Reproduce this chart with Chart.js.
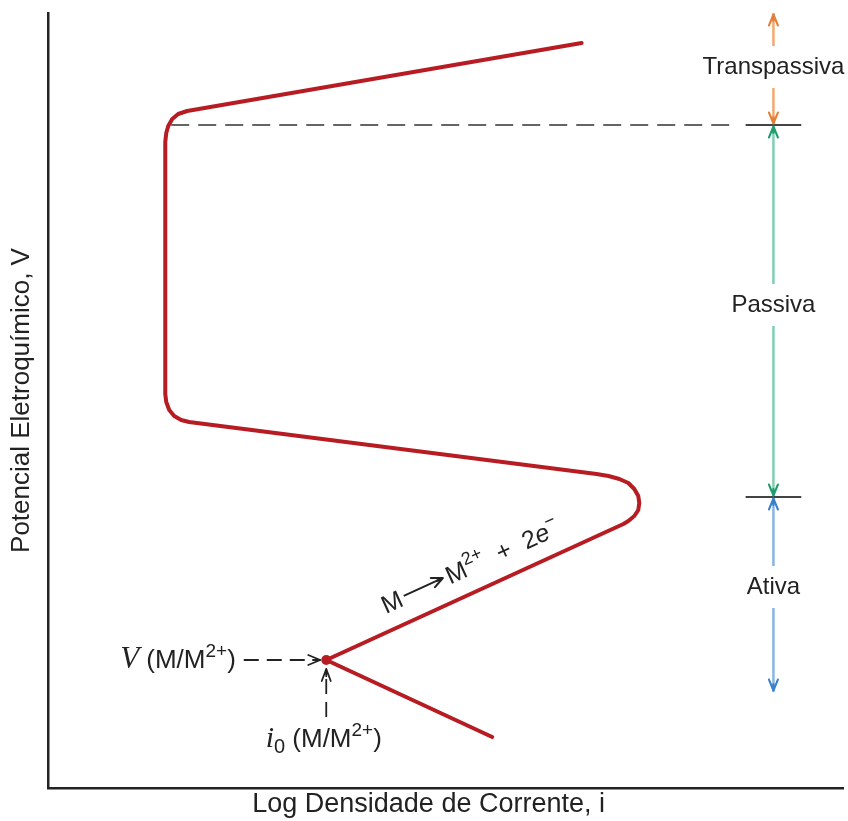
<!DOCTYPE html>
<html>
<head>
<meta charset="utf-8">
<script src="https://cdn.jsdelivr.net/npm/chart.js@4"></script>
<style>
html, body { margin: 0; padding: 0; background: #fff; }
#wrap { width: 848px; height: 821px; position: relative; }
</style>
</head>
<body>
<div id="wrap"><canvas id="chart"></canvas></div>
<script>

const xTitle = 'Log Densidade de Corrente, i';
const yTitle = 'Potencial Eletroquímico, V';

// polarization curve (arbitrary units)
const curveLogI = [ 447, 280, 579, 584, 590, 594, 595, 594, 590, 584, 575, 564, 552, 142, 134, 127, 122, 119, 118, 118, 119, 121, 125, 131, 140, 537 ];
const curveV = [ 51, 128, 264, 267, 272, 278, 285, 292, 299, 305, 309, 312, 314, 366, 368, 372, 378, 386, 394, 646, 655, 662, 669, 674, 677, 745 ];

// equilibrium point V(M/M2+), i0(M/M2+)
const eqLogI = 280;
const eqV = 128;

// potentials separating the regions
const passivationV = 291;
const transpassiveV = 663;

const regionNames = [ 'Transpassiva', 'Passiva', 'Ativa' ];
const regionTopV = [ 775, 663, 291 ];
const regionBottomV = [ 663, 291, 96 ];
const regionLabelV = [ 721, 483, 201 ];
const regionLogI = 730;

const RED = '#b71c23';
const TEXT = '#222';
const SANS = '"Liberation Sans", Arial, sans-serif';
const SERIF = '"Liberation Serif", "DejaVu Serif", serif';
const shaftColours = [ '#f3a872', '#7fd0b3', '#88b6e4' ];
const headColours = [ '#e57f35', '#1f9c6c', '#3b7fcf' ];

function pts ( xs, ys ) {

	return xs.map( ( x, i ) => ( { x: x, y: ys[ i ] } ) );

}

function lineSet ( data, colour, width, dash ) {

	return {
		data: data,
		borderColor: colour,
		backgroundColor: colour,
		borderWidth: width,
		borderDash: dash || [],
		pointRadius: 0,
		tension: 0,
		clip: false
	};

}

const datasets = [];

datasets.push( Object.assign( lineSet( pts( curveLogI, curveV ), RED, 4 ), {
	borderJoinStyle: 'round',
	borderCapStyle: 'round'
} ) );

datasets.push( {
	data: [ { x: eqLogI, y: eqV } ],
	showLine: false,
	pointRadius: 5,
	pointBackgroundColor: RED,
	pointBorderWidth: 0
} );

// dashed line from the passivity breakdown to the region scale
datasets.push( lineSet( [ { x: 124, y: transpassiveV }, { x: 694, y: transpassiveV } ], '#333', 1.5, [ 18, 9 ] ) );

// short limit marks
[ passivationV, transpassiveV ].forEach( v => {

	datasets.push( lineSet( [ { x: 702, y: v }, { x: 758, y: v } ], '#444', 1.8 ) );

} );

// region arrows shafts, broken around the label
const GAP = 21;

regionNames.forEach( ( name, i ) => {

	datasets.push( lineSet( [ { x: regionLogI, y: regionTopV[ i ] }, { x: regionLogI, y: regionLabelV[ i ] + GAP } ], shaftColours[ i ], 2.5 ) );
	datasets.push( lineSet( [ { x: regionLogI, y: regionLabelV[ i ] - GAP }, { x: regionLogI, y: regionBottomV[ i ] } ], shaftColours[ i ], 2.5 ) );

} );

// dashed pointers to the equilibrium point
datasets.push( lineSet( [ { x: 197, y: eqV }, { x: 272, y: eqV } ], '#222', 1.8, [ 15, 8 ] ) );
datasets.push( lineSet( [ { x: 280, y: 71 }, { x: 280, y: 119 } ], '#222', 1.8, [ 15, 8 ] ) );

function chevron ( ctx, x, y, dx, dy, len, half, colour, width ) {

	const px = - dy, py = dx;

	ctx.save();
	ctx.strokeStyle = colour;
	ctx.lineWidth = width;
	ctx.lineCap = 'round';
	ctx.lineJoin = 'round';
	ctx.beginPath();
	ctx.moveTo( x - dx * len + px * half, y - dy * len + py * half );
	ctx.lineTo( x, y );
	ctx.lineTo( x - dx * len - px * half, y - dy * len - py * half );
	ctx.moveTo( x, y );
	ctx.lineTo( x - dx * len * 0.6, y - dy * len * 0.6 );
	ctx.stroke();
	ctx.restore();

}

// parts: [ text, font, dy ] ; text null = drawn reaction arrow of width given in font slot
function partsWidth ( ctx, parts ) {

	let w = 0;

	for ( const p of parts ) {

		if ( p[ 0 ] === null ) {

			w += p[ 1 ];
			continue;

		}

		ctx.font = p[ 1 ];
		w += ctx.measureText( p[ 0 ] ).width;

	}

	return w;

}

function drawParts ( ctx, x, y, parts ) {

	let cx = x;

	for ( const p of parts ) {

		if ( p[ 0 ] === null ) {

			ctx.save();
			ctx.strokeStyle = TEXT;
			ctx.lineWidth = 2;
			ctx.beginPath();
			ctx.moveTo( cx + 3, y - 9 );
			ctx.lineTo( cx + p[ 1 ] - 5, y - 9 );
			ctx.stroke();
			chevron( ctx, cx + p[ 1 ] - 4, y - 9, 1, 0, 11, 5, TEXT, 2 );
			ctx.restore();
			cx += p[ 1 ];
			continue;

		}

		ctx.font = p[ 1 ];
		ctx.fillText( p[ 0 ], cx, y + ( p[ 2 ] || 0 ) );
		cx += ctx.measureText( p[ 0 ] ).width;

	}

}

const overlay = {
	id: 'overlay',
	afterDatasetsDraw ( chart ) {

		const { ctx, scales: { x, y } } = chart;

		ctx.save();
		ctx.fillStyle = TEXT;
		ctx.textBaseline = 'alphabetic';

		// region labels and arrow heads
		const ax = x.getPixelForValue( regionLogI );

		regionNames.forEach( ( name, i ) => {

			ctx.font = '24px ' + SANS;
			ctx.textAlign = 'center';
			ctx.textBaseline = 'middle';
			ctx.fillText( name, ax, y.getPixelForValue( regionLabelV[ i ] ) );

			chevron( ctx, ax, y.getPixelForValue( regionTopV[ i ] ) + 1.5, 0, - 1, 11, 4.5, headColours[ i ], 2 );
			chevron( ctx, ax, y.getPixelForValue( regionBottomV[ i ] ) - 1.5, 0, 1, 11, 4.5, headColours[ i ], 2 );

		} );

		// x axis title, sits a little left of the axis centre in the figure
		ctx.font = '27px ' + SANS;
		ctx.fillText( xTitle, x.getPixelForValue( 383 ), chart.chartArea.bottom + 17 );

		ctx.textAlign = 'left';
		ctx.textBaseline = 'alphabetic';

		// pointer heads
		const ex = x.getPixelForValue( eqLogI );
		const ey = y.getPixelForValue( eqV );

		chevron( ctx, ex - 6, ey, 1, 0, 12, 5, TEXT, 1.8 );
		chevron( ctx, ex, ey + 9, 0, - 1, 12, 4.5, TEXT, 1.8 );

		// V (M/M2+)
		const vParts = [
			[ 'V', 'italic 31px ' + SERIF ],
			[ ' (M/M', '26px ' + SANS ],
			[ '2+', '19px ' + SANS, - 11 ],
			[ ')', '26px ' + SANS ]
		];
		const vw = partsWidth( ctx, vParts );
		drawParts( ctx, x.getPixelForValue( 189 ) - vw, y.getPixelForValue( 120 ), vParts );

		// i0 (M/M2+)
		drawParts( ctx, x.getPixelForValue( 219 ), y.getPixelForValue( 41 ), [
			[ 'i', 'italic 30px ' + SERIF ],
			[ '0', '20px ' + SANS, 6 ],
			[ ' (M/M', '26px ' + SANS ],
			[ '2+', '19px ' + SANS, - 11 ],
			[ ')', '26px ' + SANS ]
		] );

		// reaction written along the anodic branch
		const x1 = x.getPixelForValue( curveLogI[ 1 ] ), y1 = y.getPixelForValue( curveV[ 1 ] );
		const x2 = x.getPixelForValue( curveLogI[ 2 ] ), y2 = y.getPixelForValue( curveV[ 2 ] );

		ctx.translate( x.getPixelForValue( 340 ), y.getPixelForValue( 174 ) );
		ctx.rotate( Math.atan2( y2 - y1, x2 - x1 ) );
		drawParts( ctx, 0, 0, [
			[ 'M', '25px ' + SANS ],
			[ null, 50 ],
			[ 'M', '25px ' + SANS ],
			[ '2+', '18px ' + SANS, - 11 ],
			[ '  +  2', '25px ' + SANS ],
			[ 'e', 'italic 25px ' + SANS ],
			[ '\u2212', '18px ' + SANS, - 11 ]
		] );

		ctx.restore();

	}
};

new Chart( document.getElementById( 'chart' ), {
	type: 'line',
	data: { datasets: datasets },
	options: {
		responsive: true,
		maintainAspectRatio: false,
		devicePixelRatio: 1,
		animation: false,
		events: [],
		layout: { padding: { top: 13, right: 0, bottom: 33, left: 0 } },
		plugins: {
			legend: { display: false },
			tooltip: { enabled: false }
		},
		scales: {
			x: {
				type: 'linear',
				min: 0,
				max: 800,
				ticks: { display: false },
				grid: { display: false, drawTicks: false },
				border: { display: true, color: '#222', width: 2.5 }
			},
			y: {
				type: 'linear',
				min: 0,
				max: 775,
				ticks: { display: false },
				grid: { display: false, drawTicks: false },
				border: { display: true, color: '#222', width: 2.5 },
				title: {
					display: true,
					text: yTitle,
					color: TEXT,
					font: { family: SANS, size: 26, lineHeight: 1 },
					padding: { top: 9, bottom: 13 }
				}
			}
		}
	},
	plugins: [ overlay ]
} );

</script>
</body>
</html>
